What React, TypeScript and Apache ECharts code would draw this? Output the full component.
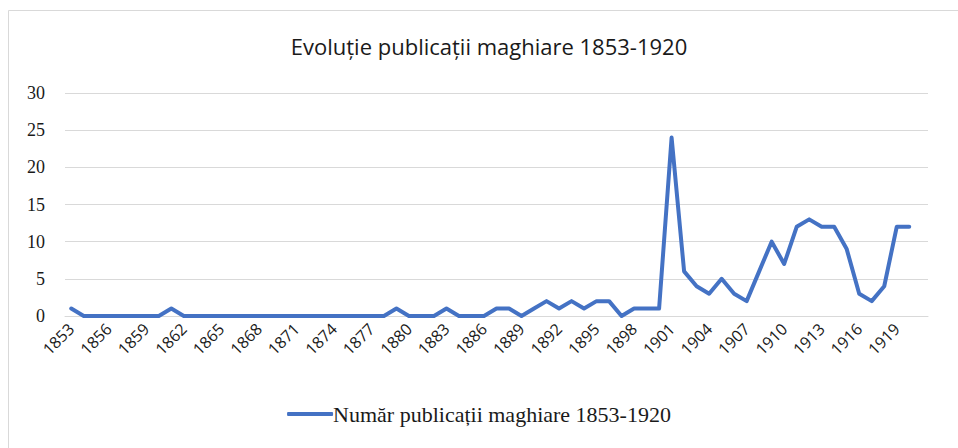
import React, { useEffect, useRef } from "react";
import * as echarts from "echarts";

const titleText = "Evoluție publicații maghiare 1853-1920";
const seriesName = "Număr publicații maghiare 1853-1920";

const years = [
  "1853", "1854", "1855", "1856", "1857", "1858", "1859", "1860", "1861", "1862",
  "1863", "1864", "1865", "1866", "1867", "1868", "1869", "1870", "1871", "1872",
  "1873", "1874", "1875", "1876", "1877", "1878", "1879", "1880", "1881", "1882",
  "1883", "1884", "1885", "1886", "1887", "1888", "1889", "1890", "1891", "1892",
  "1893", "1894", "1895", "1896", "1897", "1898", "1899", "1900", "1901", "1902",
  "1903", "1904", "1905", "1906", "1907", "1908", "1909", "1910", "1911", "1912",
  "1913", "1914", "1915", "1916", "1917", "1918", "1919", "1920", "1921",
];

const publications = [
  1, 0, 0, 0, 0, 0, 0, 0, 1, 0,
  0, 0, 0, 0, 0, 0, 0, 0, 0, 0,
  0, 0, 0, 0, 0, 0, 1, 0, 0, 0,
  1, 0, 0, 0, 1, 1, 0, 1, 2, 1,
  2, 1, 2, 2, 0, 1, 1, 1, 24, 6,
  4, 3, 5, 3, 2, 6, 10, 7, 12, 13,
  12, 12, 9, 3, 2, 4, 12, 12,
];

const yTicks = { min: 0, max: 30, interval: 5 };

export default function App() {
  const ref = useRef<HTMLDivElement>(null);
  useEffect(() => {
    document.body.style.margin = "0";
    const chart = echarts.init(ref.current!, undefined, { renderer: "svg" });
    chart.setOption({
      animation: false,
      backgroundColor: "#ffffff",
      title: {
        text: titleText,
        left: 484,
        textAlign: "center",
        top: 30,
        textStyle: {
          fontFamily: "Open Sans",
          fontSize: 22,
          fontWeight: "normal",
          color: "#1a1a1a",
        },
      },
      graphic: [
        { type: "line", shape: { x1: 8.5, y1: 10.5, x2: 8.5, y2: 448 }, style: { stroke: "#d9d9d9", lineWidth: 1 } },
        { type: "line", shape: { x1: 8.5, y1: 10.5, x2: 958, y2: 10.5 }, style: { stroke: "#d9d9d9", lineWidth: 1 } },
      ],
      legend: {
        bottom: 18,
        left: "center",
        itemWidth: 46,
        itemHeight: 4,
        itemGap: 10,
        icon: "roundRect",
        textStyle: {
          fontFamily: "Liberation Serif",
          fontSize: 22,
          color: "#1a1a1a",
          padding: [0, 0, 0, -5],
        },
        data: [{ name: seriesName }],
      },
      grid: { left: 65, right: 30, top: 93, bottom: 132 },
      xAxis: {
        type: "category",
        boundaryGap: true,
        data: years,
        axisLine: { show: true, lineStyle: { color: "#d9d9d9" } },
        axisTick: { show: false },
        axisLabel: {
          interval: 2,
          rotate: 45,
          margin: 10,
          fontFamily: "Open Sans",
          fontSize: 16,
          color: "#1a1a1a",
        },
      },
      yAxis: {
        type: "value",
        min: yTicks.min,
        max: yTicks.max,
        interval: yTicks.interval,
        axisLine: { show: false },
        axisTick: { show: false },
        splitLine: { lineStyle: { color: "#d9d9d9", width: 1 } },
        axisLabel: {
          margin: 20,
          fontFamily: "Liberation Serif",
          fontSize: 18,
          color: "#1a1a1a",
        },
      },
      series: [
        {
          name: seriesName,
          type: "line",
          data: publications,
          symbol: "none",
          lineStyle: { color: "#4472C4", width: 4, cap: "round", join: "round" },
          itemStyle: { color: "#4472C4" },
        },
      ],
    });
    return () => chart.dispose();
  }, []);
  return <div ref={ref} style={{ width: 958, height: 448 }} />;
}
